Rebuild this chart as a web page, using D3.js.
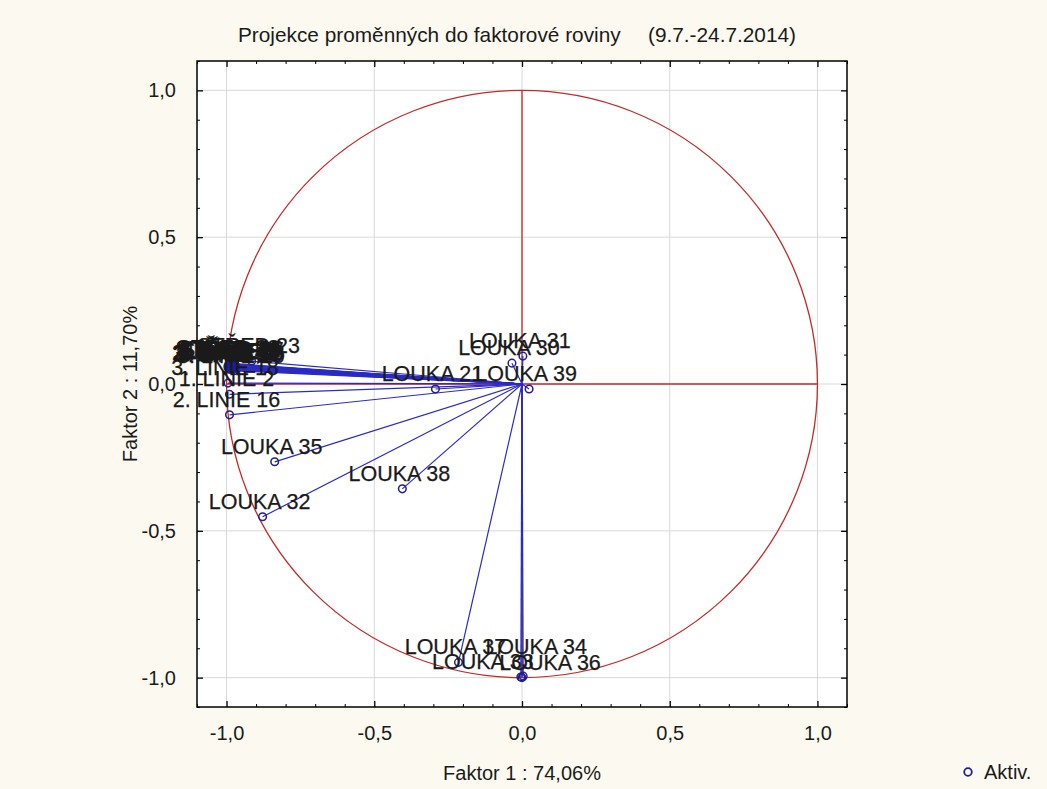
<!DOCTYPE html>
<html>
<head>
<meta charset="utf-8">
<script src="https://cdn.jsdelivr.net/npm/d3@7"></script>
<style>
  body { margin: 0; background: #fcfaf0; }
  svg { display: block; font-family: "Liberation Sans", Arial, sans-serif; }
</style>
</head>
<body>
<svg id="chart" width="1047" height="789"></svg>
<script>
// variables projected onto the factor plane
const variables = [
  'STŘED 23', 'STŘED 22', 'STŘED 24', 'STŘED 25', 'STŘED 26', 'STŘED 27',
  '1. LINIE 1', '1. LINIE 3', '1. LINIE 4', '1. LINIE 5', '1. LINIE 6',
  '2. LINIE 11', '2. LINIE 12', '2. LINIE 13', '2. LINIE 14',
  '3. LINIE 17', '3. LINIE 19', '3. LINIE 20', '3. LINIE 18', '1. LINIE 2', '2. LINIE 16',
  'LOUKA 21', 'LOUKA 30', 'LOUKA 31', 'LOUKA 39', 'LOUKA 35', 'LOUKA 38',
  'LOUKA 32', 'LOUKA 37', 'LOUKA 34', 'LOUKA 33', 'LOUKA 36',
];
// loadings on factor 1
const factor1 = [
  -0.915, -0.985, -0.99, -0.975, -0.98, -0.97,
  -0.995, -0.98, -0.99, -0.97, -0.985,
  -0.995, -0.985, -0.975, -0.99,
  -0.99, -0.98, -0.975, -0.995, -0.99, -0.99,
  -0.293, -0.034, 0.003, 0.024, -0.837, -0.405,
  -0.878, -0.215, 0.004, -0.004, 0.0,
];
// loadings on factor 2
const factor2 = [
  0.078, 0.070, 0.068, 0.067, 0.066, 0.064,
  0.062, 0.061, 0.060, 0.058, 0.057,
  0.056, 0.055, 0.054, 0.052,
  0.050, 0.048, 0.045, 0.003, -0.035, -0.105,
  -0.017, 0.071, 0.095, -0.017, -0.265, -0.357,
  -0.452, -0.948, -0.995, -0.998, -1.0,
];
const majorTicks = [-1.0, -0.5, 0.0, 0.5, 1.0];
const minorTicks = [-1.1, -0.9, -0.8, -0.7, -0.6, -0.4, -0.3, -0.2, -0.1,
  0.1, 0.2, 0.3, 0.4, 0.6, 0.7, 0.8, 0.9, 1.1];
const titleText = 'Projekce proměnných do faktorové roviny';
const titlePeriod = '(9.7.-24.7.2014)';
const xTitle = 'Faktor 1 : 74,06%';
const yTitle = 'Faktor 2 : 11,70%';
const legendLabel = 'Aktiv.';

// label nudges where the labels were shifted in the original
const labelNudge = {
  'LOUKA 34': [16, -14],
  'LOUKA 33': [-35, 0],
  'LOUKA 36': [31, 0],
};

const colours = {
  red: '#c42a2a',
  vector: '#2b2bc4',
  point: '#1e1e96',
  grid: '#d9d9d9',
  text: '#1a1a1a',
};

const margin = { top: 61, left: 197 };
const plotW = 650;
const plotH = 646;

const svg = d3.select('#chart');
const g = svg.append('g').attr('transform', `translate(${margin.left},${margin.top})`);

const x = d3.scaleLinear().domain([-1.1, 1.1]).range([0, plotW]);
const y = d3.scaleLinear().domain([-1.1, 1.1]).range([plotH, 0]);

const fmt = d3.formatLocale({
  decimal: ',', thousands: ' ', grouping: [3], currency: ['', ''], minus: '-',
}).format('.1f');

// plot background
g.append('rect')
  .attr('width', plotW)
  .attr('height', plotH)
  .attr('fill', '#fff');

// grid
g.append('g')
  .selectAll('line')
  .data(majorTicks)
  .join('line')
  .attr('x1', (d) => x(d))
  .attr('x2', (d) => x(d))
  .attr('y1', 0)
  .attr('y2', plotH)
  .attr('stroke', colours.grid);
g.append('g')
  .selectAll('line')
  .data(majorTicks)
  .join('line')
  .attr('y1', (d) => y(d))
  .attr('y2', (d) => y(d))
  .attr('x1', 0)
  .attr('x2', plotW)
  .attr('stroke', colours.grid);

// unit circle and cross
g.append('ellipse')
  .attr('cx', x(0))
  .attr('cy', y(0))
  .attr('rx', x(1) - x(0))
  .attr('ry', y(0) - y(1))
  .attr('fill', 'none')
  .attr('stroke', colours.red)
  .attr('stroke-width', 1.3);
g.append('line')
  .attr('x1', x(-1)).attr('x2', x(1))
  .attr('y1', y(0)).attr('y2', y(0))
  .attr('stroke', colours.red)
  .attr('stroke-width', 1.3);
g.append('line')
  .attr('x1', x(0)).attr('x2', x(0))
  .attr('y1', y(1)).attr('y2', y(-1))
  .attr('stroke', colours.red)
  .attr('stroke-width', 1.3);

const points = variables.map((name, i) => ({ name, f1: factor1[i], f2: factor2[i] }));

// vectors from origin
g.append('g')
  .selectAll('line')
  .data(points)
  .join('line')
  .attr('x1', x(0))
  .attr('y1', y(0))
  .attr('x2', (d) => x(d.f1))
  .attr('y2', (d) => y(d.f2))
  .attr('stroke', colours.vector)
  .attr('stroke-width', 1.2);

g.append('g')
  .selectAll('circle')
  .data(points)
  .join('circle')
  .attr('cx', (d) => x(d.f1))
  .attr('cy', (d) => y(d.f2))
  .attr('r', 3.8)
  .attr('fill', 'none')
  .attr('stroke', colours.point)
  .attr('stroke-width', 1.5);

// axes: ticks inward on all four sides
const axes = [
  { axis: d3.axisBottom(x), tr: `translate(0,${plotH})`, labels: true, pad: 19 },
  { axis: d3.axisTop(x), tr: 'translate(0,0)', labels: false, pad: 0 },
  { axis: d3.axisLeft(y), tr: 'translate(0,0)', labels: true, pad: 21 },
  { axis: d3.axisRight(y), tr: `translate(${plotW},0)`, labels: false, pad: 0 },
];
axes.forEach((a) => {
  const major = a.axis.tickValues(majorTicks).tickSize(-6)
    .tickPadding(a.pad)
    .tickFormat(a.labels ? fmt : '');
  g.append('g').attr('transform', a.tr).call(major)
    .call((s) => s.select('.domain').remove())
    .call((s) => s.selectAll('text')
      .attr('fill', colours.text)
      .style('font-size', '20px')
      .style('font-family', '"Liberation Sans", Arial, sans-serif'))
    .call((s) => s.selectAll('line').attr('stroke', '#000').attr('stroke-width', 1.3));
  const minor = a.axis.tickValues(minorTicks).tickSize(-3).tickFormat('');
  g.append('g').attr('transform', a.tr).call(minor)
    .call((s) => s.select('.domain').remove())
    .call((s) => s.selectAll('line').attr('stroke', '#000'));
});

// frame
g.append('rect')
  .attr('width', plotW)
  .attr('height', plotH)
  .attr('fill', 'none')
  .attr('stroke', '#000')
  .attr('stroke-width', 1.5);

// point labels
g.append('g')
  .selectAll('text')
  .data(points)
  .join('text')
  .attr('x', (d) => x(d.f1) - 3 + (labelNudge[d.name] ? labelNudge[d.name][0] : 0))
  .attr('y', (d) => y(d.f2) - 8 + (labelNudge[d.name] ? labelNudge[d.name][1] : 0))
  .attr('text-anchor', 'middle')
  .attr('fill', colours.text)
  .attr('stroke', colours.text)
  .attr('stroke-width', 0.25)
  .style('font-size', '21.5px')
  .text((d) => d.name);

// titles
svg.append('text')
  .attr('x', 238)
  .attr('y', 42)
  .attr('fill', colours.text)
  .style('font-size', '20.8px')
  .text(titleText);
svg.append('text')
  .attr('x', 648)
  .attr('y', 42)
  .attr('fill', colours.text)
  .style('font-size', '20.8px')
  .text(titlePeriod);
svg.append('text')
  .attr('x', margin.left + x(0))
  .attr('y', 780)
  .attr('text-anchor', 'middle')
  .attr('fill', colours.text)
  .style('font-size', '20px')
  .text(xTitle);
svg.append('text')
  .attr('transform', `translate(137,${margin.top + y(0)}) rotate(-90)`)
  .attr('text-anchor', 'middle')
  .attr('fill', colours.text)
  .style('font-size', '20px')
  .text(yTitle);

// legend
svg.append('circle')
  .attr('cx', 968)
  .attr('cy', 772)
  .attr('r', 3.8)
  .attr('fill', 'none')
  .attr('stroke', colours.point)
  .attr('stroke-width', 1.8);
svg.append('text')
  .attr('x', 984)
  .attr('y', 779)
  .attr('fill', colours.text)
  .style('font-size', '20px')
  .text(legendLabel);
</script>
</body>
</html>
